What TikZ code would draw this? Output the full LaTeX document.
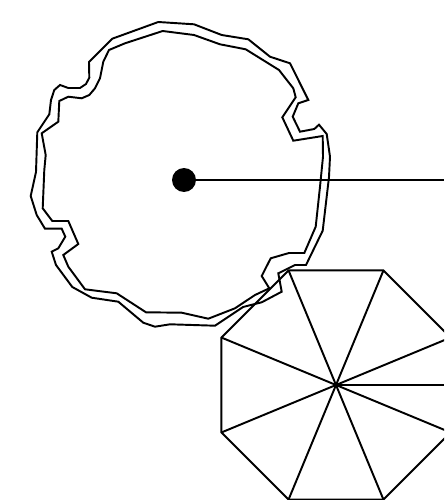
\documentclass[tikz,border=0pt]{standalone}
\usepackage{tikz}
\usetikzlibrary{calc,positioning}
\tikzset{
  rimline/.style={line width=1.1pt,line join=miter,black},
  octline/.style={line width=1.1pt,black},
  hubdot/.style={circle,fill=black,inner sep=0pt,minimum size=0.48cm},
  octhub/.style={circle,draw=black,line width=0.7pt,inner sep=0pt,minimum size=0.08cm},
}

\begin{document}
\begin{tikzpicture}[x=0.02cm,y=-0.02cm]
  \clip (0,0) rectangle (444,500);
  % outer edge of the ring
  \draw[rimline] (158.3,22) -- (112.3,38.7) -- (89,62) -- (89.3,77.7) -- (86,84) -- (80,88)
    -- (68.3,88) -- (60,85) -- (54.3,90) -- (51,100) -- (49.3,114.3) -- (37.3,132.3)
    -- (36,172) -- (30.7,196) -- (36.7,215) -- (45,228.7) -- (61.7,228.7) -- (65.3,236.7)
    -- (58.3,248.3) -- (51.7,251.7) -- (56,265) -- (72.3,287) -- (91.7,297.7) -- (118.3,301.7)
    -- (143.3,322.7) -- (155,326.7) -- (170,324.3) -- (215,325.7) -- (243,307) -- (261.7,302.3)
    -- (281.7,291.7) -- (278.3,273.3) -- (295,265) -- (306,265) -- (322.7,230.7) -- (329,177)
    -- (330,156.7) -- (326.7,134) -- (319,124.7) -- (314.3,129) -- (300,131.7) -- (292.7,116.7)
    -- (298.3,103.3) -- (308.3,100) -- (290,63.3) -- (270,56.7) -- (248.3,39.3) -- (221.7,35)
    -- (194,24.3) -- cycle;
  % inner edge of the ring
  \draw[rimline] (162.7,31) -- (125,43.3) -- (109,50) -- (103.3,61.7) -- (100,78.3) -- (95,88.3)
    -- (89.3,95) -- (81.7,98.3) -- (68.3,96.7) -- (59.3,101) -- (58.3,121.7) -- (41.7,133.3)
    -- (45.7,155) -- (44.3,170) -- (42.7,208.3) -- (52.3,221) -- (68.3,221) -- (78.3,244)
    -- (63.3,255) -- (68.3,266.7) -- (85,289.3) -- (116.7,293.3) -- (146,312.3) -- (181.7,312.7)
    -- (208.3,318.7) -- (235,308.3) -- (255,295) -- (269.3,288.3) -- (261.7,276) -- (270.7,258.3)
    -- (289,253) -- (304.3,253) -- (315.7,226.7) -- (320,186.7) -- (323,156.7) -- (322.7,136)
    -- (293.3,140.7) -- (282.3,117.3) -- (295.7,97.3) -- (293.3,88.3) -- (279,70) -- (245.7,49.3)
    -- (220,44.3) -- (194,35) -- cycle;
  \node[hubdot] (hub) at (184,180) {};
  \coordinate (hubend) at (444,180);
  \draw[octline] (hub) -- (hubend);
  % octagon with its spokes
  \node[octhub] (octc) at (336,385) {};
  \foreach \i in {0,...,7} {
    \pgfmathsetmacro{\ang}{22.5+45*\i}
    \coordinate (v\i) at ($(octc)+(\ang:124)$);
    \draw[octline] (octc.center) -- (v\i);
  }
  \draw[octline] (v0) -- (v1) -- (v2) -- (v3) -- (v4) -- (v5) -- (v6) -- (v7) -- cycle;
  \coordinate (octend) at (444,385);
  \draw[octline] (octc.center) -- (octend);
\end{tikzpicture}
\end{document}
